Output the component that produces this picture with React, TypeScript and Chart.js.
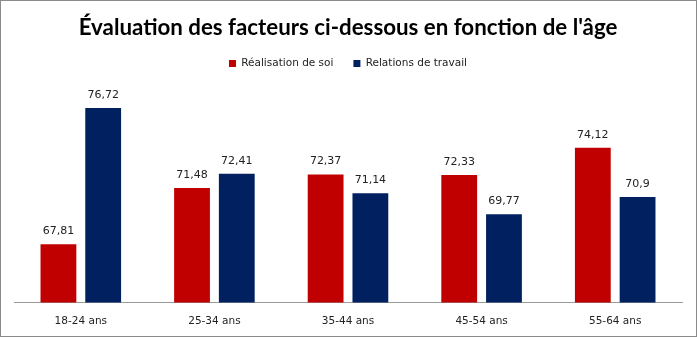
import React, { useEffect, useRef } from "react";
import { Chart, registerables } from "chart.js";

Chart.register(...registerables);

const categories = ["18-24 ans", "25-34 ans", "35-44 ans", "45-54 ans", "55-64 ans"];
const realisationDeSoi = [67.81, 71.48, 72.37, 72.33, 74.12];
const relationsDeTravail = [76.72, 72.41, 71.14, 69.77, 70.9];
const seriesNames = ["Réalisation de soi", "Relations de travail"];
const titleText = "Évaluation des facteurs ci-dessous en fonction de l'âge";

const fmt = (v: number) => String(v).replace(".", ",");

const valueLabels = {
  id: "valueLabels",
  afterDatasetsDraw(chart: any) {
    const ctx = chart.ctx;
    ctx.save();
    ctx.font = '11px "DejaVu Sans"';
    ctx.fillStyle = "#222";
    ctx.textAlign = "center";
    ctx.textBaseline = "alphabetic";
    chart.data.datasets.forEach((ds: any, i: number) => {
      const meta = chart.getDatasetMeta(i);
      meta.data.forEach((bar: any, j: number) => {
        ctx.fillText(fmt(ds.data[j]), bar.x, bar.y - 10);
      });
    });
    ctx.restore();
  },
};

export default function App() {
  const ref = useRef<HTMLCanvasElement | null>(null);
  useEffect(() => {
    if (!ref.current) return;
    const chart = new Chart(ref.current, {
      type: "bar",
      data: {
        labels: categories,
        datasets: [
          { label: seriesNames[0], data: realisationDeSoi, backgroundColor: "#C00000", borderWidth: 0 },
          { label: seriesNames[1], data: relationsDeTravail, backgroundColor: "#002060", borderWidth: 0 },
        ],
      },
      options: {
        animation: false,
        responsive: false,
        maintainAspectRatio: false,
        layout: { padding: { left: 13, right: 14, top: 0, bottom: -5 } },
        datasets: { bar: { categoryPercentage: 0.67, barPercentage: 0.8 } },
        plugins: {
          title: {
            display: true,
            text: titleText,
            color: "#000",
            font: { family: "Lato", size: 22.3, weight: "bold", lineHeight: 1 },
            padding: { top: 16, bottom: -1 },
          },
          legend: {
            display: true,
            position: "top",
            labels: {
              boxWidth: 7,
              boxHeight: 7,
              padding: 20,
              color: "#222",
              font: { family: "DejaVu Sans", size: 10.5 },
            },
          },
          tooltip: { enabled: false },
        },
        scales: {
          x: {
            grid: { display: false, drawTicks: false },
            border: { display: true, color: "#9a9a9a", width: 1 },
            ticks: { color: "#222", padding: 13, font: { family: "DejaVu Sans", size: 10.5 } },
          },
          y: {
            display: false,
            min: 64,
            max: 78.63,
          },
        },
      },
      plugins: [valueLabels],
    });
    return () => chart.destroy();
  }, []);
  return (
    <div
      style={{
        position: "absolute",
        left: 0,
        top: 0,
        width: 697,
        height: 337,
        boxSizing: "border-box",
        border: "1px solid #8a8a8a",
        background: "#fff",
      }}
    >
      <canvas ref={ref} width={695} height={335} style={{ display: "block", width: 695, height: 335 }} />
    </div>
  );
}
